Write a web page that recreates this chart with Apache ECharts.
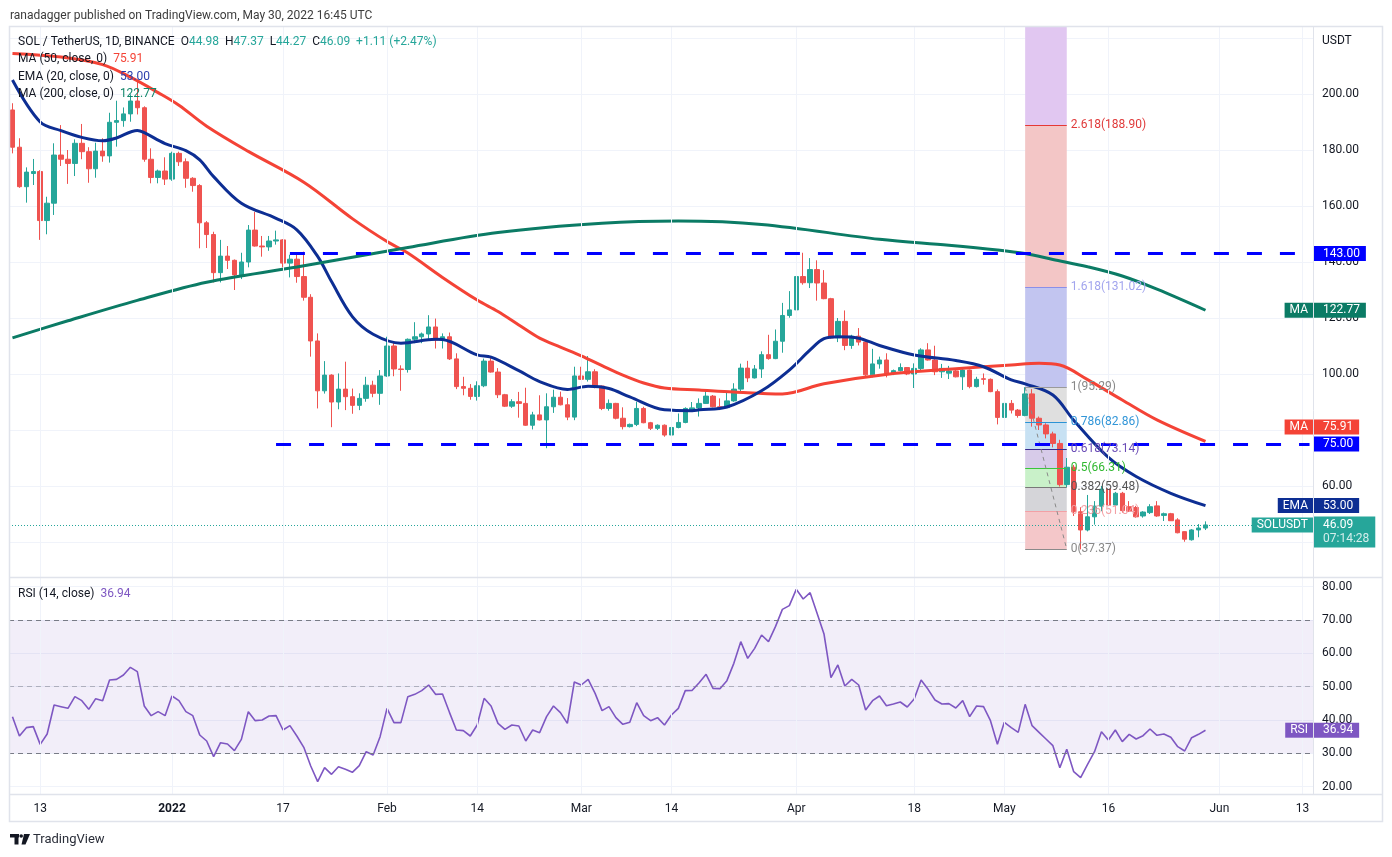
<!DOCTYPE html>
<html>
<head>
<meta charset="utf-8">
<title>SOL / TetherUS 1D</title>
<script src="https://cdn.jsdelivr.net/npm/echarts@6.0.0/dist/echarts.min.js"></script>
<style>
  html, body { margin: 0; padding: 0; background: #ffffff; }
  .chart { width: 1392px; height: 857px; }
</style>
</head>
<body>
<div class="chart"></div>
<script>
// dates: one slot per day, Dec 9 2021 .. Jun 14 2022 (last two weeks empty)
var firstDay = Date.UTC(2021, 11, 9);
var dayCount = 188;
var dates = [];
for (var d = 0; d < dayCount; d++) {
  dates.push(new Date(firstDay + d * 86400000).toISOString().slice(0, 10));
}

// time axis labels
var tickDates = ['2021-12-13', '2022-01-01', '2022-01-17', '2022-02-01', '2022-02-14', '2022-03-01', '2022-03-14',
  '2022-04-01', '2022-04-18', '2022-05-01', '2022-05-16', '2022-06-01', '2022-06-13'];
var tickTexts = ['13', '2022', '17', 'Feb', '14', 'Mar', '14', 'Apr', '18', 'May', '16', 'Jun', '13'];

// daily candles, Dec 9 .. May 30
var open = [
  194.3, 181.0, 166.9, 171.6, 172.3, 154.8, 161.0, 178.2, 176.7, 175.2,
  182.4, 179.4, 173.3, 179.6, 177.9, 189.9, 190.5, 192.9, 197.5, 195.1,
  176.7, 170.2, 172.5, 169.6, 178.8, 175.8, 169.9, 167.3, 154.0, 149.8,
  136.2, 142.1, 140.6, 135.4, 140.0, 151.4, 145.7, 145.4, 147.5, 147.9,
  139.6, 141.0, 134.8, 127.4, 111.8, 94.0, 99.6, 90.0, 94.6, 91.9,
  88.8, 91.3, 96.0, 93.1, 99.3, 110.0, 101.8, 101.6, 112.4, 113.3,
  114.3, 116.8, 112.1, 113.3, 105.4, 95.5, 94.9, 92.0, 95.8, 104.6,
  100.7, 92.6, 88.5, 90.1, 89.5, 81.7, 85.4, 83.6, 88.3, 91.7,
  89.0, 84.6, 99.3, 98.1, 100.8, 95.7, 87.7, 89.5, 84.2, 81.2,
  82.0, 87.7, 82.6, 80.6, 81.7, 78.2, 80.9, 82.7, 87.2, 87.9,
  89.5, 92.1, 88.3, 88.0, 90.4, 94.6, 102.1, 98.6, 101.8, 106.9,
  105.5, 111.7, 120.9, 122.9, 134.8, 132.6, 137.3, 132.5, 126.9, 112.9,
  118.8, 110.2, 113.5, 111.4, 99.7, 103.6, 105.0, 100.2, 101.2, 102.3,
  100.0, 102.0, 108.6, 105.0, 100.8, 100.3, 101.1, 99.0, 101.4, 95.5,
  98.3, 98.1, 93.7, 84.5, 89.5, 87.1, 85.2, 92.9, 84.2, 81.8,
  78.6, 75.2, 60.5, 66.7, 50.8, 44.3, 49.0, 52.8, 58.9, 53.2,
  57.4, 52.6, 52.3, 49.3, 50.5, 52.9, 49.5, 50.1, 47.9, 43.7,
  40.8, 44.3, 44.98
];
var high = [
  196.7, 184.2, 173.8, 176.8, 172.8, 163.3, 182.4, 188.9, 180.0, 183.8,
  189.3, 181.0, 182.6, 184.2, 193.3, 197.6, 195.2, 199.9, 204.8, 195.6,
  180.6, 173.0, 177.4, 179.4, 179.4, 177.0, 170.3, 167.8, 154.6, 150.8,
  147.9, 145.7, 140.9, 143.3, 153.2, 157.9, 149.3, 149.3, 151.2, 148.2,
  142.6, 142.6, 143.7, 128.5, 114.5, 104.6, 99.9, 100.2, 104.4, 94.8,
  93.1, 99.0, 97.6, 101.4, 113.3, 111.5, 103.1, 112.7, 118.5, 114.8,
  121.0, 119.8, 114.5, 114.8, 107.4, 99.0, 96.4, 97.4, 105.5, 105.7,
  102.1, 92.9, 91.0, 93.6, 95.1, 86.5, 92.4, 93.1, 94.4, 93.7,
  91.4, 102.6, 102.6, 106.4, 101.7, 95.9, 90.9, 89.7, 88.1, 82.3,
  90.1, 88.3, 82.9, 82.0, 82.0, 85.6, 85.9, 88.1, 90.0, 91.3,
  94.5, 92.5, 91.3, 93.3, 96.7, 103.7, 104.7, 103.2, 108.1, 114.0,
  115.9, 125.4, 129.6, 138.5, 143.3, 141.4, 140.6, 137.1, 127.2, 120.0,
  122.7, 114.0, 116.4, 111.7, 109.0, 106.2, 107.4, 101.6, 103.8, 102.5,
  103.8, 109.2, 111.0, 110.1, 103.6, 102.9, 102.0, 101.7, 101.6, 99.0,
  100.2, 98.4, 94.5, 93.1, 90.7, 87.5, 95.29, 94.6, 84.8, 82.4,
  79.4, 76.5, 70.0, 67.5, 52.4, 56.8, 54.6, 60.0, 59.5, 57.9,
  57.9, 54.6, 52.9, 51.0, 53.5, 54.6, 50.5, 50.4, 48.5, 43.8,
  44.6, 46.4, 47.37
];
var low = [
  178.8, 166.5, 161.2, 167.5, 147.9, 149.9, 156.8, 174.3, 167.9, 170.7,
  176.7, 168.3, 170.1, 175.8, 175.5, 181.2, 188.3, 190.1, 192.7, 175.8,
  168.1, 168.1, 167.5, 169.0, 174.3, 166.5, 165.1, 144.9, 145.0, 132.7,
  132.7, 137.5, 130.0, 133.9, 138.1, 145.5, 141.9, 144.0, 146.2, 138.1,
  134.5, 132.6, 126.2, 106.2, 87.7, 93.0, 81.0, 87.4, 87.1, 85.8,
  87.1, 90.1, 91.7, 89.0, 99.0, 99.2, 94.0, 100.5, 111.0, 111.0,
  112.1, 109.1, 109.1, 105.0, 94.6, 92.4, 90.8, 90.5, 95.3, 100.5,
  91.4, 88.2, 87.9, 84.4, 81.5, 80.2, 83.4, 73.5, 86.1, 88.8,
  83.5, 83.5, 97.9, 97.3, 94.9, 87.1, 86.9, 83.8, 80.2, 80.9,
  81.4, 82.4, 80.0, 80.0, 77.6, 78.0, 80.6, 82.4, 86.6, 84.8,
  89.3, 88.1, 87.1, 87.9, 90.1, 93.8, 97.1, 98.4, 98.6, 105.1,
  105.3, 107.6, 120.1, 117.4, 131.9, 130.7, 126.2, 126.7, 112.6, 111.4,
  108.5, 109.0, 110.2, 99.3, 98.8, 101.9, 98.8, 99.6, 100.9, 99.6,
  95.0, 101.4, 104.8, 99.6, 98.6, 98.2, 98.8, 94.3, 94.9, 95.2,
  96.2, 93.5, 82.0, 84.2, 85.9, 84.4, 84.9, 81.2, 80.0, 77.0,
  73.8, 59.8, 59.6, 49.3, 37.37, 43.8, 46.2, 51.0, 52.3, 52.8,
  50.5, 50.7, 48.7, 48.7, 50.0, 49.0, 47.5, 47.5, 43.1, 40.1,
  40.5, 41.7, 44.27
];
var close = [
  181.0, 166.9, 172.1, 172.3, 154.8, 161.0, 178.2, 176.7, 175.2, 182.4,
  179.4, 173.3, 179.6, 177.9, 189.9, 190.5, 192.9, 197.5, 195.1, 176.7,
  170.2, 172.5, 169.6, 178.8, 175.8, 169.9, 167.3, 154.0, 149.8, 136.2,
  142.1, 140.6, 135.4, 140.0, 151.4, 145.7, 145.4, 147.5, 147.9, 139.6,
  141.0, 134.8, 127.4, 111.8, 94.0, 99.6, 90.0, 94.6, 91.9, 88.8,
  91.3, 96.0, 93.1, 99.3, 110.0, 101.8, 101.6, 112.4, 113.3, 114.3,
  116.8, 112.1, 113.3, 105.4, 95.5, 94.9, 92.0, 95.8, 104.6, 100.7,
  92.6, 88.5, 90.1, 89.5, 81.7, 85.4, 83.6, 88.3, 91.7, 89.0,
  84.6, 99.3, 98.1, 100.8, 95.7, 87.7, 89.5, 84.2, 81.2, 82.0,
  87.7, 82.6, 80.6, 81.7, 78.2, 80.9, 82.7, 87.7, 87.9, 89.5,
  92.1, 88.3, 88.0, 90.4, 94.6, 102.1, 98.6, 101.8, 106.9, 105.5,
  111.7, 120.9, 122.9, 134.8, 132.6, 137.3, 132.5, 126.9, 112.9, 118.8,
  110.2, 113.5, 111.4, 99.7, 103.6, 105.0, 100.2, 101.2, 102.3, 100.0,
  102.0, 108.6, 105.0, 100.8, 102.0, 101.1, 99.0, 101.4, 95.5, 98.1,
  98.1, 93.7, 84.5, 89.5, 87.1, 85.2, 92.9, 84.2, 81.8, 78.6,
  75.2, 60.5, 66.7, 50.8, 44.3, 49.0, 52.8, 58.9, 53.2, 57.4,
  51.2, 51.0, 49.0, 50.7, 52.6, 49.3, 50.1, 47.6, 43.3, 41.0,
  44.3, 44.98, 46.09
];

// moving averages: [day index, value]
var ma50 = [[0, 214.5], [7, 213.2], [13, 210.5], [17, 206], [21, 200.5], [24, 196], [28, 188.5], [34, 179.5],
  [42, 168.5], [49, 155.5], [54, 147.3], [57, 143.2], [62, 134.5], [67, 126.4], [70, 122.3], [73, 117.5],
  [76, 112.8], [79, 109.6], [82, 106.5], [85, 103.0], [88, 99.6], [91, 96.8], [94, 95.0], [99, 94.3],
  [104, 93.6], [111, 92.9], [117, 96.5], [127, 100.2], [136, 101.9], [144, 103.2], [148, 103.8],
  [151, 103.2], [155, 98.0], [160, 90.7], [165, 83.6], [172, 75.91]];
var ema20 = [[0, 205], [4, 190], [7, 186.9], [10, 184.5], [13, 183.3], [15, 184.3], [18, 187], [19, 186.2],
  [22, 182.3], [25, 179.8], [27, 176.5], [29, 170.5], [33, 161], [38, 155.6], [41, 151.5], [44, 142],
  [46, 133], [49, 120.5], [52, 114.2], [56, 111], [61, 112.4], [62, 112.3], [67, 106.8], [69, 106],
  [73, 101.2], [76, 97.3], [80, 94.5], [83, 95.6], [86, 94.8], [89, 91.8], [94, 87.2], [98, 86.9],
  [99, 87.2], [103, 88.2], [108, 94], [112, 101.4], [115, 108.6], [117, 112.6], [119, 113.3],
  [122, 112.8], [125, 110.2], [130, 106.8], [136, 104.8], [140, 102.6], [144, 97.9], [146, 96.5],
  [150, 92.5], [153, 83.5], [158, 70.2], [162, 63.4], [167, 57.4], [172, 53.0]];
var ma200 = [[0, 112.9], [8, 119.0], [18, 126.3], [28, 132.8], [41, 138.2], [57, 145.2], [70, 150.5],
  [85, 153.8], [96, 154.6], [108, 153.4], [125, 148.1], [135, 146.0], [142, 144.3], [146, 143.0],
  [150, 140.9], [155, 138.3], [160, 135.0], [165, 130.3], [172, 122.77]];

// RSI(14), one value per candle
var rsi = [
  41.0, 35.2, 37.7, 38.0, 32.7, 35.8, 44.5, 44.0, 43.5, 47.0,
  45.8, 43.2, 46.4, 45.8, 52.0, 52.2, 53.5, 55.8, 54.5, 44.2,
  41.3, 42.5, 41.3, 47.2, 45.8, 42.5, 41.3, 35.5, 33.7, 29.0,
  33.2, 32.8, 30.8, 34.2, 42.5, 39.8, 40.0, 41.2, 41.3, 37.0,
  38.3, 35.2, 31.8, 26.2, 21.5, 25.7, 23.7, 26.0, 25.2, 24.3,
  26.3, 30.5, 29.5, 35.0, 43.5, 39.2, 39.2, 47.0, 47.7, 48.8,
  50.5, 47.7, 47.8, 42.3, 37.0, 36.8, 35.2, 38.5, 46.5, 44.2,
  39.0, 37.2, 38.5, 38.2, 33.7, 37.0, 36.2, 41.0, 44.2, 42.2,
  39.0, 51.4, 50.5, 52.2, 48.0, 42.8, 44.0, 40.7, 38.7, 39.3,
  45.2, 41.3, 39.8, 40.7, 38.5, 41.5, 43.5, 48.8, 48.9, 51.2,
  53.7, 49.5, 49.4, 51.8, 57.0, 63.5, 58.5, 61.5, 65.5, 63.5,
  68.0, 73.2, 74.3, 79.2, 76.3, 78.2, 72.0, 65.8, 52.7, 56.5,
  50.2, 52.2, 50.5, 43.0, 45.8, 47.2, 44.3, 44.8, 45.4, 43.9,
  46.3, 52.0, 49.2, 46.0, 44.8, 44.9, 43.6, 45.8, 41.0, 44.2,
  44.0, 39.8, 32.7, 39.3, 37.7, 36.3, 44.7, 38.3, 36.3, 34.3,
  32.3, 25.7, 31.2, 24.5, 22.7, 26.7, 30.5, 36.5, 34.0, 37.0,
  33.5, 35.7, 34.3, 35.3, 37.3, 35.4, 35.8, 34.8, 32.0, 30.7,
  34.7, 35.7, 36.94
];

// horizontal levels drawn by the author: [start day index, price]
var hLevels = [[40, 143.0], [38, 75.0]];

// fibonacci retracement, May 4 .. May 10
var fibFrom = 146, fibTo = 152;
var fibLevels = [0, 0.236, 0.382, 0.5, 0.618, 0.786, 1, 1.618, 2.618];
var fibPrices = [37.37, 51.04, 59.48, 66.31, 73.14, 82.86, 95.29, 131.02, 188.90];
var fibFills = ['#f4c7c9', '#d5d5d9', '#c9f1c9', '#d7cbe9', '#c7e1f3', '#dfdfdf', '#c2c5f0', '#f3c6c6', '#e1c7f1'];
var fibLineColors = ['#8a8a8a', '#f3a0a5', '#787878', '#3cc43c', '#3a2a8c', '#2a93d5', '#9a9a9a', '#8b8fe8', '#e53935'];
var fibTextColors = ['#888888', '#f3a0a5', '#555555', '#30b830', '#6a4cb6', '#3296d8', '#888888', '#a2a5ee', '#e03a3a'];

var FONT = 'Roboto, "Liberation Sans", sans-serif';
var UP = '#26a69a', DOWN = '#ef5350';
var BLUE = '#0000ff', RED = '#f44336', NAVY = '#0d2e93', GREEN = '#0b7b65', PURPLE = '#7e57c2';
var GRID_LINE = '#f0f3fa', FRAME = '#e0e3eb';
var priceMin = 27.5, priceMax = 223.93;
var rsiMin = 17.8, rsiMax = 82.6;

var chart = echarts.init(document.querySelector('.chart'));

function toPoints(list) {
  return list.map(function (p) { return [dates[p[0]], p[1]]; });
}

var candles = open.map(function (o, i) { return [o, close[i], low[i], high[i]]; });

var fibAreas = fibPrices.map(function (p, k) {
  var top = k < fibPrices.length - 1 ? fibPrices[k + 1] : priceMax;
  return [
    { xAxis: dates[fibFrom], yAxis: p, itemStyle: { color: fibFills[k] } },
    { xAxis: dates[fibTo], yAxis: top }
  ];
});
var fibLines = fibPrices.map(function (p, k) {
  return [
    {
      coord: [dates[fibFrom], p],
      lineStyle: { color: fibLineColors[k], width: 1, type: 'solid' },
      label: { show: true, position: 'end', distance: 4, color: fibTextColors[k], fontSize: 12, fontFamily: FONT,
        formatter: fibLevels[k] + '(' + p.toFixed(2) + ')' }
    },
    { coord: [dates[fibTo], p] }
  ];
});
fibLines.push([
  { coord: [dates[fibFrom], fibPrices[6]], lineStyle: { color: '#8a8a8a', width: 1, type: [4, 4] }, label: { show: false } },
  { coord: [dates[fibTo], fibPrices[0]] }
]);

var gridMarks = tickDates.map(function (t) { return { xAxis: t }; });

var option = {
  animation: false,
  backgroundColor: '#ffffff',
  textStyle: { fontFamily: FONT },
  grid: [
    { left: 9, right: 79, top: 27, height: 550 },        // price pane
    { left: 9, right: 79, top: 38, height: 560 },        // price scale 20..220
    { left: 9, right: 79, top: 578, height: 216 },       // rsi pane
    { left: 9, right: 79, top: 553.33, height: 266.67 }  // rsi scale 10..90
  ],
  xAxis: [
    { type: 'category', gridIndex: 0, data: dates, show: false },
    { type: 'category', gridIndex: 1, data: dates, show: false },
    {
      type: 'category', gridIndex: 2, data: dates,
      axisLine: { show: false },
      axisTick: { show: false },
      splitLine: { show: false },
      axisLabel: {
        interval: function (idx, val) { return tickDates.indexOf(val) >= 0; },
        formatter: function (val) {
          var t = tickTexts[tickDates.indexOf(val)];
          return t === '2022' ? '{b|2022}' : t;
        },
        rich: { b: { fontWeight: 'bold', color: '#131722', fontSize: 12, fontFamily: FONT } },
        color: '#131722',
        fontSize: 12,
        margin: 9
      }
    },
    { type: 'category', gridIndex: 3, data: dates, show: false }
  ],
  yAxis: [
    { type: 'value', gridIndex: 0, min: priceMin, max: priceMax, show: false },
    {
      type: 'value', gridIndex: 1, position: 'right', min: 20, max: 220, interval: 20,
      axisLine: { show: false },
      axisTick: { show: false },
      axisLabel: {
        color: '#131722', fontSize: 12, margin: 9,
        showMinLabel: false, showMaxLabel: false,
        formatter: function (v) { return v.toFixed(2); }
      },
      splitLine: { show: true, showMinLine: false, lineStyle: { color: GRID_LINE } }
    },
    { type: 'value', gridIndex: 2, min: rsiMin, max: rsiMax, show: false },
    {
      type: 'value', gridIndex: 3, position: 'right', min: 10, max: 90, interval: 10,
      axisLine: { show: false },
      axisTick: { show: false },
      axisLabel: {
        color: '#131722', fontSize: 12, margin: 9,
        showMinLabel: false, showMaxLabel: false,
        formatter: function (v) { return v.toFixed(2); }
      },
      splitLine: { show: true, showMinLine: false, showMaxLine: false, lineStyle: { color: GRID_LINE } }
    }
  ],
  series: [
    // vertical grid lines
    {
      type: 'line', xAxisIndex: 0, yAxisIndex: 0, data: [], z: 0, silent: true,
      markLine: { symbol: ['none', 'none'], silent: true, label: { show: false },
        lineStyle: { color: GRID_LINE, width: 1, type: 'solid' }, data: gridMarks }
    },
    {
      type: 'line', xAxisIndex: 2, yAxisIndex: 2, data: [], z: 0, silent: true,
      markLine: { symbol: ['none', 'none'], silent: true, label: { show: false },
        lineStyle: { color: GRID_LINE, width: 1, type: 'solid' }, data: gridMarks }
    },
    // fibonacci
    {
      type: 'line', xAxisIndex: 0, yAxisIndex: 0, data: [], z: 1, silent: true,
      markArea: { silent: true, data: fibAreas },
      markLine: { symbol: ['none', 'none'], silent: true, data: fibLines }
    },
    // current price
    {
      type: 'line', xAxisIndex: 0, yAxisIndex: 0, data: [], z: 2, silent: true,
      markLine: { symbol: ['none', 'none'], silent: true, label: { show: false },
        lineStyle: { color: UP, width: 1, type: [1, 2] },
        data: [{ yAxis: close[close.length - 1] }] }
    },
    {
      name: 'SOLUSDT',
      type: 'candlestick',
      xAxisIndex: 0, yAxisIndex: 0,
      data: candles,
      barWidth: 5,
      z: 3,
      itemStyle: { color: UP, color0: DOWN, borderColor: UP, borderColor0: DOWN, borderWidth: 1 }
    },
    {
      name: 'MA 50', type: 'line', xAxisIndex: 0, yAxisIndex: 0, data: toPoints(ma50),
      smooth: 0.35, symbol: 'none', z: 4, lineStyle: { color: RED, width: 3 }
    },
    {
      name: 'EMA 20', type: 'line', xAxisIndex: 0, yAxisIndex: 0, data: toPoints(ema20),
      smooth: 0.35, symbol: 'none', z: 4, lineStyle: { color: NAVY, width: 3 }
    },
    {
      name: 'MA 200', type: 'line', xAxisIndex: 0, yAxisIndex: 0, data: toPoints(ma200),
      smooth: 0.35, symbol: 'none', z: 4, lineStyle: { color: GREEN, width: 3 }
    },
    // blue dashed levels
    {
      type: 'line', xAxisIndex: 0, yAxisIndex: 0, data: [], z: 5, silent: true,
      markLine: {
        symbol: ['none', 'none'], silent: true, label: { show: false },
        lineStyle: { color: BLUE, width: 3, type: [15, 18] },
        data: hLevels.map(function (h) {
          return [{ coord: [dates[h[0]], h[1]] }, { coord: [dates[dates.length - 1], h[1]] }];
        })
      }
    },
    // RSI
    {
      name: 'RSI', type: 'line', xAxisIndex: 2, yAxisIndex: 2, data: rsi,
      symbol: 'none', z: 4, lineStyle: { color: PURPLE, width: 1.6 },
      markArea: { silent: true, itemStyle: { color: 'rgba(126, 87, 194, 0.1)' }, data: [[{ yAxis: 30 }, { yAxis: 70 }]] },
      markLine: {
        symbol: ['none', 'none'], silent: true, label: { show: false },
        lineStyle: { color: '#787b86', width: 1, type: [5, 4] },
        data: [{ yAxis: 70 }, { yAxis: 50, lineStyle: { opacity: 0.5 } }, { yAxis: 30 }]
      }
    }
  ]
};

chart.setOption(option);

// right scale tags and legends
var last = close.length - 1;
function py(v) { return chart.convertToPixel({ yAxisIndex: 0 }, v); }
function ry(v) { return chart.convertToPixel({ yAxisIndex: 2 }, v); }

function textEl(x, y, style) {
  style.font = style.font || '12px ' + FONT;
  style.align = style.textAlign = style.align || 'left';
  style.verticalAlign = style.textVerticalAlign = style.verticalAlign || 'middle';
  return { type: 'text', x: x, y: y, z: 100, silent: true, style: style };
}
function valueTag(y, text, color) {
  return textEl(1314, y, { text: text, fill: '#ffffff', backgroundColor: color, padding: [2, 6, 1, 9], font: '12px ' + FONT });
}
function nameTag(y, text, color) {
  return textEl(1313, y, { text: text, fill: '#ffffff', backgroundColor: color, padding: [2, 5, 1, 5], font: '12px ' + FONT, align: 'right' });
}

var chg = close[last] - close[last - 1];
var pct = chg / close[last - 1] * 100;
var rich12 = function (c) { return { fill: c, font: '12px ' + FONT }; };

var graphics = [
  // frame
  { type: 'rect', z: 50, silent: true, shape: { x: 9.5, y: 26.5, width: 1373, height: 795 }, style: { fill: 'none', stroke: FRAME, lineWidth: 1.5 } },
  { type: 'line', z: 50, silent: true, shape: { x1: 9, y1: 577.5, x2: 1383, y2: 577.5 }, style: { stroke: FRAME, lineWidth: 1.5 } },
  { type: 'line', z: 50, silent: true, shape: { x1: 9, y1: 794.5, x2: 1383, y2: 794.5 }, style: { stroke: FRAME, lineWidth: 1.5 } },
  { type: 'line', z: 50, silent: true, shape: { x1: 1313.5, y1: 27, x2: 1313.5, y2: 794 }, style: { stroke: FRAME, lineWidth: 1 } },

  textEl(10, 15.5, { text: 'ranadagger published on TradingView.com, May 30, 2022 16:45 UTC', fill: '#3c3c3c' }),
  textEl(18, 42, {
    text: '{t|SOL / TetherUS, 1D, BINANCE}  {t|O}{v|' + open[last].toFixed(2) + '}  {t|H}{v|' + high[last].toFixed(2) +
      '}  {t|L}{v|' + low[last].toFixed(2) + '}  {t|C}{v|' + close[last].toFixed(2) + '}  {v|+' + chg.toFixed(2) +
      ' (+' + pct.toFixed(2) + '%)}',
    rich: { t: rich12('#131722'), v: rich12(UP) }
  }),
  textEl(18, 59, { text: '{t|MA (50, close, 0)}  {v|' + ma50[ma50.length - 1][1].toFixed(2) + '}', rich: { t: rich12('#131722'), v: rich12(RED) } }),
  textEl(18, 76.5, { text: '{t|EMA (20, close, 0)}  {v|' + ema20[ema20.length - 1][1].toFixed(2) + '}', rich: { t: rich12('#131722'), v: rich12('#2c40ad') } }),
  textEl(18, 93.5, { text: '{t|MA (200, close, 0)}  {v|' + ma200[ma200.length - 1][1].toFixed(2) + '}', rich: { t: rich12('#131722'), v: rich12('#12876b') } }),
  textEl(18, 593.5, { text: '{t|RSI (14, close)}  {v|' + rsi[last].toFixed(2) + '}', rich: { t: rich12('#131722'), v: rich12(PURPLE) } }),
  textEl(1322, 40.5, { text: 'USDT', fill: '#131722', font: '12px ' + FONT }),

  valueTag(py(hLevels[0][1]), hLevels[0][1].toFixed(2), BLUE),
  nameTag(py(ma200[ma200.length - 1][1]), 'MA', GREEN),
  valueTag(py(ma200[ma200.length - 1][1]), ma200[ma200.length - 1][1].toFixed(2), GREEN),
  valueTag(py(hLevels[1][1]), hLevels[1][1].toFixed(2), BLUE),
  nameTag(py(hLevels[1][1]) - 17, 'MA', RED),
  valueTag(py(hLevels[1][1]) - 17, ma50[ma50.length - 1][1].toFixed(2), RED),
  nameTag(py(ema20[ema20.length - 1][1]), 'EMA', NAVY),
  valueTag(py(ema20[ema20.length - 1][1]), ema20[ema20.length - 1][1].toFixed(2), NAVY),
  nameTag(py(close[last]), 'SOLUSDT', UP),
  textEl(1314, py(close[last]) - 8.5, {
    text: '{a|' + close[last].toFixed(2) + '}\n{b|07:14:28}',
    rich: { a: { fill: '#ffffff', font: '12px ' + FONT, lineHeight: 14.5 }, b: { fill: 'rgba(255,255,255,0.8)', font: '12px ' + FONT, lineHeight: 14.5 } },
    backgroundColor: UP, padding: [1, 6, 1, 9], verticalAlign: 'top'
  }),
  nameTag(ry(rsi[last]), 'RSI', PURPLE),
  valueTag(ry(rsi[last]), rsi[last].toFixed(2), PURPLE),

  // footer logo
  { type: 'rect', z: 50, silent: true, shape: { x: 10, y: 834, width: 9, height: 3.5 }, style: { fill: '#131722' } },
  { type: 'rect', z: 50, silent: true, shape: { x: 14.5, y: 834, width: 4, height: 10.5 }, style: { fill: '#131722' } },
  { type: 'circle', z: 50, silent: true, shape: { cx: 21.2, cy: 836, r: 1.8 }, style: { fill: '#131722' } },
  { type: 'polygon', z: 50, silent: true, shape: { points: [[24, 834], [30, 834], [25.5, 844.5], [21.5, 844.5]] }, style: { fill: '#131722' } },
  textEl(33, 839.5, { text: 'TradingView', fill: '#2a2e39', font: '13px ' + FONT })
];

chart.setOption({ graphic: graphics });

window.addEventListener('resize', function () {
  chart.resize();
});
</script>
</body>
</html>
